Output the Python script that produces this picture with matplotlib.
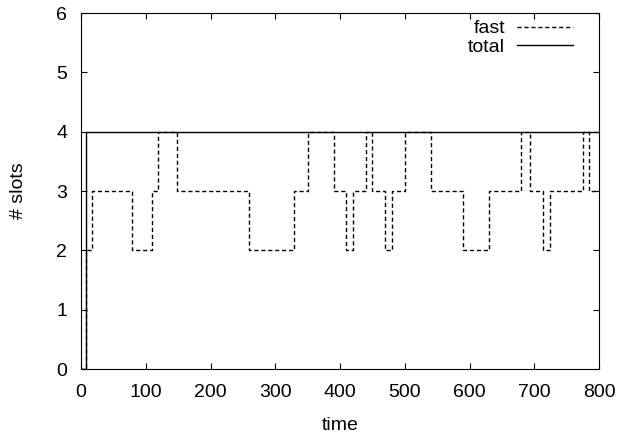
import matplotlib.pyplot as plt

plt.rcParams['font.family'] = ['Liberation Sans', 'DejaVu Sans']

# step points (time, slots) for the "fast" series
fast_t = [0, 8, 17, 79, 110, 119, 149, 260, 329, 350, 390, 410, 420, 440, 450,
          470, 480, 500, 540, 590, 630, 680, 694, 714, 724, 775, 784, 800]
fast_v = [0, 2, 3, 2, 3, 4, 3, 2, 3, 4, 3, 2, 3, 4, 3,
          2, 3, 4, 3, 2, 3, 4, 3, 2, 3, 4, 3, 3]

total_t = [0, 8, 800]
total_v = [0, 4, 4]

fig = plt.figure(figsize=(6.21, 4.37), dpi=100)
ax = fig.add_axes([81/621, (437-369)/437, (599-81)/621, (369-13)/437])

ax.step(fast_t, fast_v, where='post', color='black', lw=1.0,
        linestyle=(0, (3, 2)), label='fast')
ax.step(total_t, total_v, where='post', color='black', lw=1.0, label='total')

ax.set_xlim(0, 800)
ax.set_ylim(0, 6)
ax.set_xticks(range(0, 801, 100))
ax.set_yticks(range(0, 7))
ax.tick_params(direction='in', top=True, right=True, labelsize=14, length=4)
ax.tick_params(axis='x', pad=11)
ax.tick_params(axis='y', pad=10)
ax.set_xlabel('time', fontsize=14, labelpad=11)
ax.set_ylabel('# slots', fontsize=14, labelpad=21)

ax.legend(loc='upper right', bbox_to_anchor=(0.95, 0.981), frameon=False,
          markerfirst=False, fontsize=14, handlelength=2.9, labelspacing=0.05,
          borderaxespad=0, borderpad=0, handletextpad=0.6)

plt.savefig('out.png')
